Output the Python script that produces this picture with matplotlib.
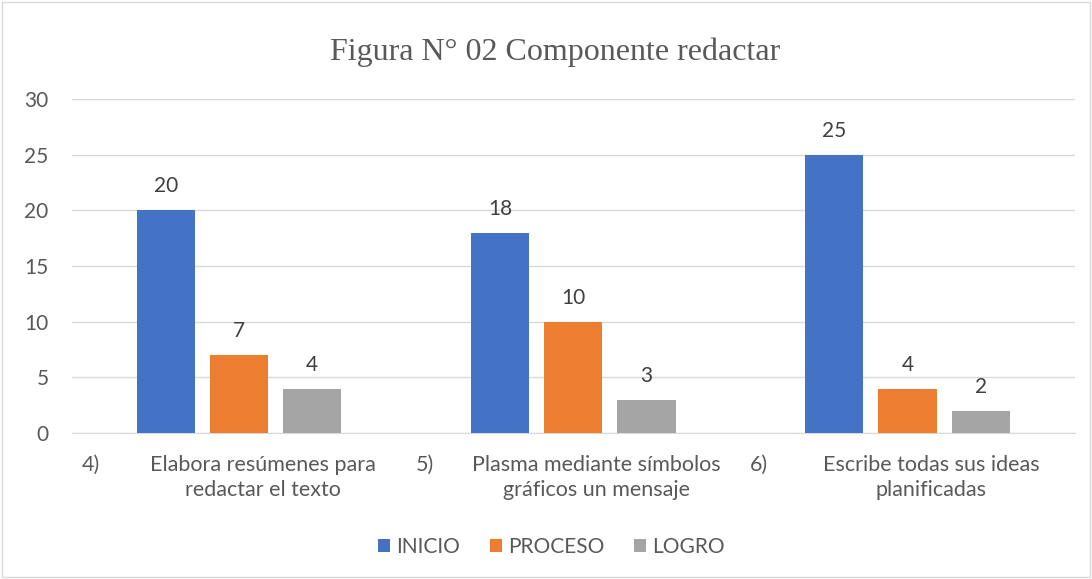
import matplotlib.pyplot as plt
import numpy as np
from matplotlib.patches import Rectangle

numeros = ['4)', '5)', '6)']
items = ['Elabora resúmenes para\nredactar el texto',
         'Plasma mediante símbolos\ngráficos un mensaje',
         'Escribe todas sus ideas\nplanificadas']
series = ['INICIO', 'PROCESO', 'LOGRO']
inicio = [20, 18, 25]
proceso = [7, 10, 4]
logro = [4, 3, 2]
colores = ['#4472C4', '#ED7D31', '#A5A5A5']

plt.rcParams['font.family'] = ['Lato', 'DejaVu Sans']

fig = plt.figure(figsize=(10.92, 5.79), dpi=100)
ax = fig.add_axes([0.066, 0.252, 0.918, 0.577])

x = np.arange(len(items))
w = 0.174
paso = 0.219
for k, (nombre, vals) in enumerate(zip(series, [inicio, proceso, logro])):
    pos = x + (k - 1) * paso
    ax.bar(pos, vals, w, color=colores[k], label=nombre, zorder=3)
    for p, v in zip(pos, vals):
        ax.text(p, v + 1.25, str(v), ha='center', va='bottom', fontsize=15, color='#404040')

ax.set_xlim(-0.5, 2.5)
ax.set_ylim(0, 30)
ax.set_yticks(range(0, 31, 5))
ax.yaxis.grid(True, color='#D9D9D9', lw=1, zorder=0)
for s in ['top', 'right', 'left']:
    ax.spines[s].set_visible(False)
ax.spines['bottom'].set_color('#D9D9D9')
ax.tick_params(axis='y', length=0, labelsize=15, labelcolor='#595959', pad=17)
ax.set_xticks([])

tr = ax.get_xaxis_transform()
for i in range(len(items)):
    ax.text(i - 0.472, -0.065, numeros[i], transform=tr, ha='left', va='top',
            fontsize=15.5, color='#595959')
    ax.text(i + 0.07, -0.065, items[i], transform=tr, ha='center', va='top',
            fontsize=15.5, color='#595959', multialignment='center', linespacing=1.3)

fig.text(0.508, 0.91, 'Figura N° 02 Componente redactar', ha='center', va='center',
         fontsize=23, color='#595959', family='Liberation Serif')

leg = fig.legend(loc='center', bbox_to_anchor=(0.505, 0.055), ncol=3, frameon=False,
                 fontsize=15, handlelength=0.6, handleheight=0.6, handletextpad=0.3,
                 columnspacing=1.4)
for t in leg.get_texts():
    t.set_color('#595959')

fig.patches.append(Rectangle((0.002, 0.003), 0.996, 0.994, transform=fig.transFigure,
                             fill=False, edgecolor='#D9D9D9', lw=1))

fig.savefig('out.png', dpi=100)
